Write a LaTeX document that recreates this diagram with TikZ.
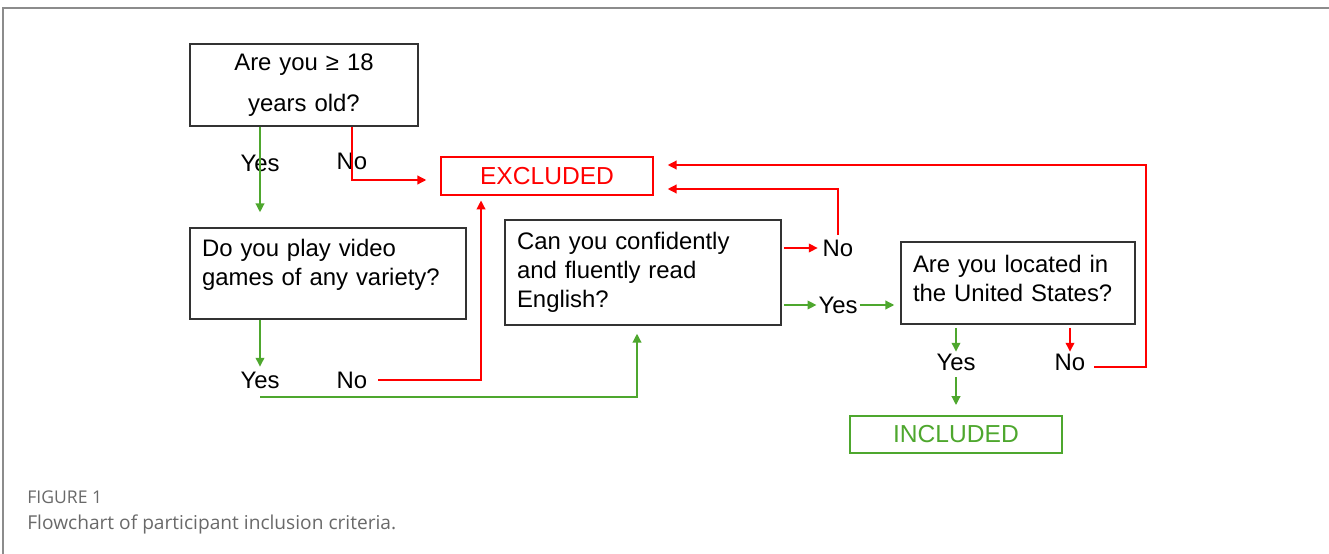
\documentclass[tikz,border=0pt]{standalone}
\usepackage{fontspec}
\setmainfont{Liberation Sans}
\newfontfamily\capfont{Open Sans}
\usetikzlibrary{arrows.meta,calc,positioning}
\definecolor{exred}{RGB}{255,0,0}
\definecolor{ingreen}{RGB}{78,167,46}
\definecolor{framegray}{RGB}{140,140,140}
\definecolor{capgray}{RGB}{105,105,105}
\tikzstyle{question}=[draw=black!80, line width=0.9pt, inner xsep=0.24cm,
                      inner ysep=0pt, align=left,
                      font=\fontsize{13.6}{16.5}\selectfont]
\tikzstyle{result}  =[draw, line width=0.9pt, minimum width=4.24cm,
                      minimum height=0.75cm,
                      font=\fontsize{14}{16}\selectfont]
\tikzstyle{answer}  =[inner sep=1pt, font=\fontsize{13.6}{16.5}\selectfont]
\tikzstyle{yesline} =[draw=ingreen, line width=0.7pt,
                      -{Triangle[length=5pt,width=5pt]}]
\tikzstyle{noline}  =[draw=exred, line width=0.7pt,
                      -{Triangle[length=5pt,width=5pt]}]

\begin{document}
\begin{tikzpicture}[x=0.02cm, y=-0.02cm]
    \useasboundingbox (0,0) rectangle (1329,554);
    \draw[framegray, line width=0.8pt] (3,554) -- (3,8) -- (1329,8);

    % questions and outcomes
    \node[question, align=center, text width=4.08cm, minimum height=1.64cm]
        (adult) at (304,85) {Are you ≥ 18\\[6.7pt]years old?};
    \node[result, draw=exred, text=exred] (excl) at (547,176) {EXCLUDED};
    \node[question, text width=5.04cm, minimum height=1.82cm]
        (games) at (328,273.5) {Do you play video\\games of any variety?\\[-4pt]\mbox{}};
    \node[question, text width=5.04cm, minimum height=2.10cm]
        (english) at (643,272.5) {Can you confidently\\and fluently read\\English?};
    \node[question, text width=4.20cm, minimum height=1.64cm]
        (usa) at (1018,283) {Are you located in\\the United States?\\[-11pt]\mbox{}};
    \node[result, draw=ingreen, text=ingreen] (incl) at (956,434.5) {INCLUDED};

    % answers
    \node[answer] (yesA) at (260,163) {Yes};
    \node[answer] (noA)  at (352,161) {No};
    \node[answer] (yesB) at (260,380) {Yes};
    \node[answer] (noB)  at (352,380) {No};
    \node[answer] (noC)  at (838,248) {No};
    \node[answer] (yesC) at (838,305) {Yes};
    \node[answer] (yesD) at (956,362) {Yes};
    \node[answer] (noD)  at (1070,362) {No};
    \coordinate (back) at (1146,367);

    % connectors
    \draw[yesline, shorten >=0.3cm] (adult.south -| yesA) -- (games.north -| yesA);
    \draw[noline, shorten >=0.28cm] (adult.south -| noA) |- ([yshift=-0.08cm]excl.west);
    \draw[yesline, shorten >=0.06cm] (games.south -| yesB) -- (yesB.north);
    \draw[noline, shorten <=0.18cm, shorten >=0.1cm] (noB.east) -| ([xshift=-1.32cm]excl.south);
    \draw[yesline, shorten >=0.16cm] ([yshift=-0.34cm]yesB.center) -| ([xshift=-0.12cm]english.south);
    \draw[noline, shorten <=0.04cm, shorten >=0.06cm] (english.east |- noC) -- (noC.west);
    \draw[noline, shorten <=0.06cm, shorten >=0.28cm] (noC.north) |- ([yshift=-0.26cm]excl.east);
    \draw[yesline, shorten <=0.04cm] (english.east |- yesC) -- (yesC.west);
    \draw[yesline, shorten >=0.12cm] (yesC.east) -- (usa.west |- yesC);
    \draw[yesline, shorten <=0.06cm] (usa.south -| yesD) -- (yesD.north);
    \draw[yesline, shorten <=0.1cm, shorten >=0.2cm] (yesD.south) -- (incl.north);
    \draw[noline, shorten <=0.06cm] (usa.south -| noD) -- (noD.north);
    \draw[noline, shorten <=0.14cm, shorten >=0.28cm] (noD.east |- back) -- (back)
        |- ([yshift=0.22cm]excl.east);

    % caption
    \node[anchor=base west, inner sep=0pt, text=capgray,
          font=\capfont\fontsize{10}{12}\selectfont] (fig) at (27,503) {FIGURE 1};
    \node[anchor=base west, inner sep=0pt, text=capgray,
          font=\capfont\fontsize{10.9}{13}\selectfont] (capt) at (27,529)
        {Flowchart of participant inclusion criteria.};
\end{tikzpicture}
\end{document}
